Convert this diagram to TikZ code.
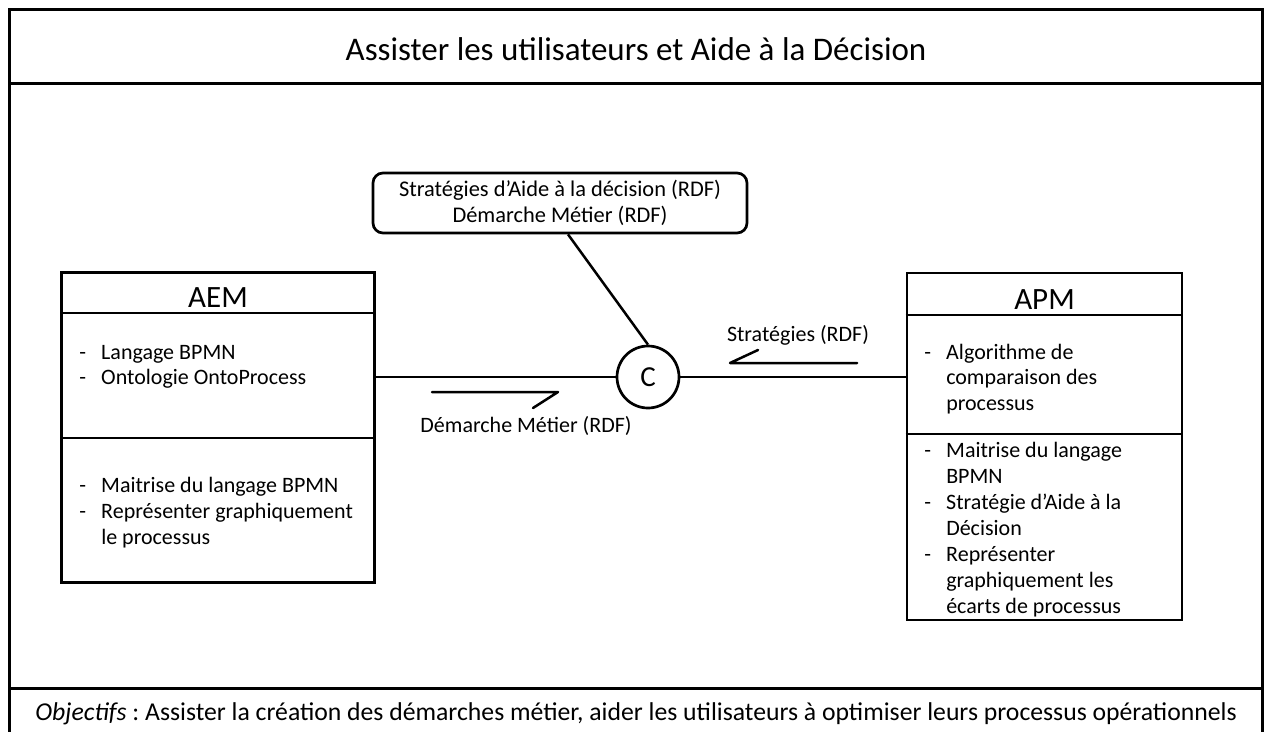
\documentclass[tikz,border=0pt]{standalone}
\usepackage{fontspec}
\setmainfont{Carlito}
\usetikzlibrary{calc}
\frenchspacing
\begin{document}
\begin{tikzpicture}[x=1pt,y=-1pt,line width=2.5pt,
  frameline/.style={line width=3pt},
  boxpart/.style={draw,line width=2.7pt,inner sep=0pt},
  bigtxt/.style={font=\fontsize{33}{36}\selectfont,inner sep=0pt},
  headtxt/.style={font=\fontsize{31}{34}\selectfont,inner sep=0pt},
  listtxt/.style={font=\fontsize{22}{26}\selectfont,inner sep=0pt,anchor=base west},
  listtxtA/.style={font=\fontsize{22}{25.5}\selectfont,inner sep=0pt,anchor=base west},
  labtxt/.style={font=\fontsize{22}{24}\selectfont,inner sep=0pt},
  callbox/.style={draw,rounded corners=10pt,line width=2.7pt,inner sep=0pt,
    minimum width=374pt,minimum height=60pt,align=center,font=\fontsize{22.4}{25.5}\selectfont},
  joint/.style={draw,circle,line width=2.7pt,minimum size=62pt,inner sep=0pt,font=\fontsize{29}{30}\selectfont}
]
\useasboundingbox (0,0) rectangle (1269,731);
% frame
\draw[frameline] (9,735) -- (9,9) -- (1262,9) -- (1262,735);
\draw[frameline] (9,83) -- (1262,83);
\draw[frameline] (9,688) -- (1262,688);
\node[bigtxt,anchor=base] (title) at (636,60) {Assister les utilisateurs et Aide à la Décision};
\node[bigtxt,anchor=base,font=\fontsize{25.7}{30}\selectfont] (obj) at (636,720)
  {\textit{Objectifs} : Assister la création des démarches métier, aider les utilisateurs à optimiser leurs processus opérationnels};
% AEM
\node[boxpart,minimum width=313pt,minimum height=310pt] (aem) at (218,427.5) {};
\draw[line width=2.7pt] (aem.west |- 0,313) -- (aem.east |- 0,313);
\draw[line width=2.7pt] (aem.west |- 0,438) -- (aem.east |- 0,438);
\node[headtxt,anchor=base] (aemh) at (218,307) {AEM};
\node[listtxtA] (aem1) at (78,359) {\begin{tabular}[t]{@{}p{22pt}@{}l@{}}-&Langage BPMN\\-&Ontologie OntoProcess\end{tabular}};
\node[listtxt] (aem2) at (78,492) {\begin{tabular}[t]{@{}p{22pt}@{}l@{}}-&Maitrise du langage BPMN\\-&Représenter graphiquement\\&le processus\end{tabular}};
% APM
\node[boxpart,minimum width=275pt,minimum height=347pt] (apm) at (1044.5,446.5) {};
\draw[line width=2.7pt] (apm.west |- 0,315) -- (apm.east |- 0,315);
\draw[line width=2.7pt] (apm.west |- 0,434) -- (apm.east |- 0,434);
\node[headtxt,anchor=base] (apmh) at (1044.5,309) {APM};
\node[listtxtA] (apm1) at (923,359) {\begin{tabular}[t]{@{}p{22pt}@{}l@{}}-&Algorithme de\\&comparaison des\\&processus\end{tabular}};
\node[listtxt] (apm2) at (923,457) {\begin{tabular}[t]{@{}p{22pt}@{}l@{}}-&Maitrise du langage\\&BPMN\\-&Stratégie d’Aide à la\\&Décision\\-&Représenter\\&graphiquement les\\&écarts de processus\end{tabular}};
% centre
\node[callbox] (call) at (560,203) {Stratégies d’Aide à la décision (RDF)\\Démarche Métier (RDF)};
\node[joint] (c) at (648,377) {C};
\draw (c.west) -- (c.west -| aem.east);
\draw (c.east) -- (c.east -| apm.west);
\draw ([xshift=8pt]call.south) -- (c.north);
% half arrows
\coordinate (d1) at (432,392);
\coordinate (d2) at (558,392);
\coordinate (d3) at (533,408);
\draw[line cap=round,line join=round] (d1) -- (d2) -- (d3);
\node[labtxt,anchor=base] (dlab) at (526,432) {Démarche Métier (RDF)};
\coordinate (s1) at (857,363);
\coordinate (s2) at (730,363);
\coordinate (s3) at (758,350);
\draw[line cap=round,line join=round] (s1) -- (s2) -- (s3);
\node[labtxt,anchor=base] (slab) at (798,341) {Stratégies (RDF)};
\end{tikzpicture}
\end{document}
